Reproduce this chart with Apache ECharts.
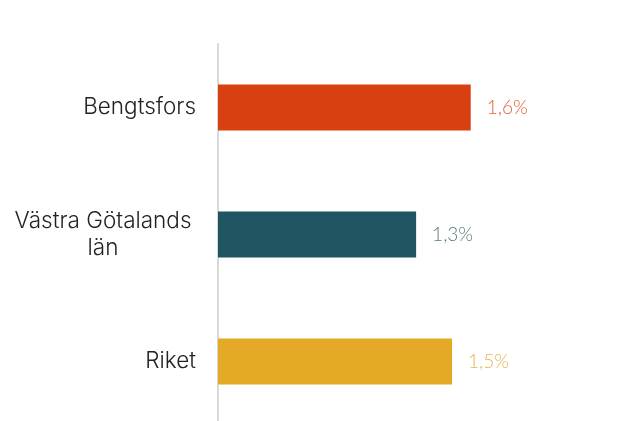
<!DOCTYPE html>
<html>
<head>
<meta charset="utf-8">
<script src="https://cdn.jsdelivr.net/npm/echarts@6/dist/echarts.min.js"></script>
<style>
  html, body { margin: 0; padding: 0; background: #fff; }
  #chart { width: 627px; height: 421px; }
</style>
</head>
<body>
<div id="chart"></div>
<script>
// data
const categories = ['Bengtsfors', 'Västra Götalands\nlän', 'Riket']
const values = [1.62, 1.27, 1.5]
const barColors = ['#d84012', '#1f5560', '#e3a927']
const labelColors = ['#e2603a', '#5b7c80', '#e9b453']

const chart = echarts.init(document.getElementById('chart'))

chart.setOption({
  animation: false,
  grid: { left: 218, right: 19, top: 44, bottom: -4, outerBoundsMode: 'none' },
  xAxis: {
    type: 'value',
    min: 0,
    max: 2.5,
    show: false
  },
  yAxis: {
    type: 'category',
    inverse: true,
    data: categories,
    axisLine: { lineStyle: { color: '#d9d9d9', width: 2 } },
    axisTick: { show: false },
    axisLabel: {
      margin: 22,
      color: '#222',
      fontFamily: 'Inter',
      fontWeight: 300,
      fontSize: 22.5,
      lineHeight: 27,
      formatter: function (v) {
        if (v.indexOf('\n') >= 0) {
          return v.split('\n').map(s => '{c|' + s + '}').join('\n')
        }
        return v
      },
      rich: {
        c: { width: 186, align: 'center', fontSize: 22.5, lineHeight: 27, color: '#222', fontFamily: 'Inter', fontWeight: 300 }
      }
    }
  },
  series: [
    {
      type: 'bar',
      barWidth: 46,
      data: values.map((v, i) => ({
        value: v,
        itemStyle: { color: barColors[i] },
        label: { color: labelColors[i] }
      })),
      label: {
        show: true,
        position: 'right',
        distance: 16,
        fontFamily: 'Lato',
        fontWeight: 300,
        fontSize: 19,
        formatter: p => p.value.toFixed(1).replace('.', ',') + '%'
      }
    }
  ]
})
</script>
</body>
</html>
